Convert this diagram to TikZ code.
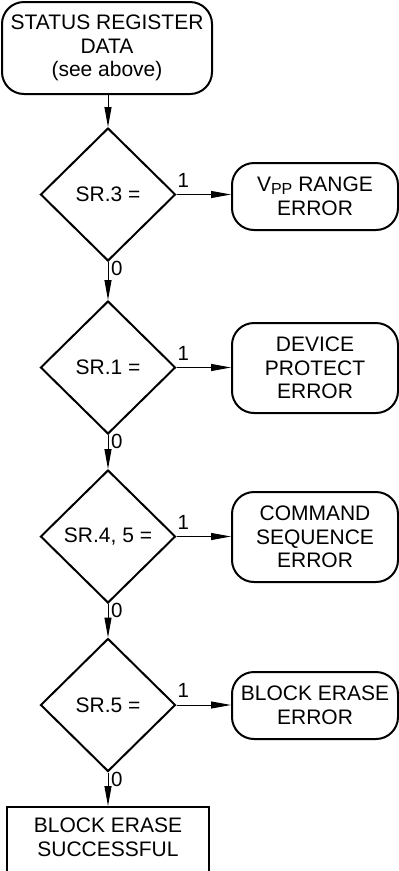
\documentclass[tikz,border=0pt]{standalone}
\usepackage{fontspec}
\setmainfont{Liberation Sans}
\usetikzlibrary{shapes.geometric,arrows.meta,calc}
\begin{document}
\begin{tikzpicture}[x=1pt,y=-1pt,
  every node/.style={font=\fontsize{21}{23.5}\selectfont, align=center},
  term/.style={draw, line width=2pt, rounded corners=22pt, minimum width=166pt, inner sep=0pt},
  dec/.style={draw, diamond, line width=2pt, minimum width=135pt, minimum height=133pt, inner sep=0pt},
  proc/.style={draw, line width=2pt, minimum width=202pt, minimum height=68pt, inner sep=0pt, text depth=8pt},
  conn/.style={line width=1pt, -{Triangle[length=20pt,width=7pt]}},
  lbl/.style={font=\fontsize{20.5}{21}\selectfont, inner sep=0pt},
]
\useasboundingbox (0,0) rectangle (399,871);

\node[term, minimum width=210pt, minimum height=92pt] (top) at (107,48) {STATUS REGISTER\\DATA\\(see above)};

\node[dec] (d1) at (108,194.5) {SR.3 =};
\node[dec] (d2) at (108,367.5) {SR.1 =};
\node[dec] (d3) at (108,536.5) {SR.4, 5 =};
\node[dec] (d4) at (108,705) {SR.5 =};

\node[term, minimum height=67pt] (b1) at (315,196.5) {V\raisebox{-2.5pt}{\fontsize{16}{16}\selectfont PP} RANGE\\ERROR};
\node[term, minimum height=90pt] (b2) at (315,368) {DEVICE\\PROTECT\\ERROR};
\node[term, minimum height=90pt] (b3) at (315,537) {COMMAND\\SEQUENCE\\ERROR};
\node[term, minimum height=67pt] (b4) at (315,705.5) {BLOCK ERASE\\ERROR};

\node[proc] (ok) at (108,841) {BLOCK ERASE\\SUCCESSFUL};

\draw[conn] (top.south -| d1.north) -- (d1.north);
\draw[conn] (d1.south) -- (d2.north);
\draw[conn] (d2.south) -- (d3.north);
\draw[conn] (d3.south) -- (d4.north);
\draw[conn] (d4.south) -- (ok.north);

\draw[conn] (d1.east) -- (d1.east -| b1.west);
\draw[conn] (d2.east) -- (d2.east -| b2.west);
\draw[conn] (d3.east) -- (d3.east -| b3.west);
\draw[conn] (d4.east) -- (d4.east -| b4.west);

\foreach \d in {d1,d2,d3,d4} {
  \node[lbl, anchor=south west] (one\d) at ($(\d.east)+(1,-7)$) {1};
  \node[lbl, anchor=north west] (zero\d) at ($(\d.south)+(3,-1)$) {0};
}
\end{tikzpicture}
\end{document}
